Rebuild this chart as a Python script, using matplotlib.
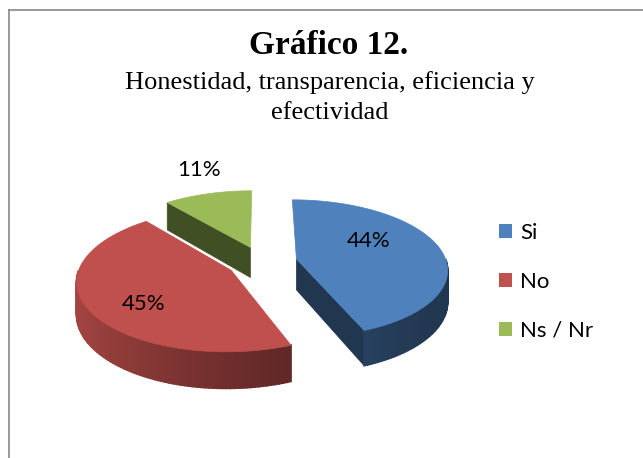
import numpy as np
import matplotlib.pyplot as plt
from matplotlib.patches import Polygon, Patch
from matplotlib.lines import Line2D
from matplotlib.colors import to_rgb

# datos del grafico
labels = ['Si', 'No', 'Ns / Nr']
values = [44, 45, 11]
colors = ['#4F81BD', '#C0504D', '#9BBB59']
title = 'Gráfico 12.'
subtitle = ['Honestidad, transparencia, eficiencia y', 'efectividad']

# geometria del pastel 3D (pixeles)
CX, CY = 262, 262
A, B, P, H = 150, 68, 0.136, 31
EXPLODE = 0.235
label_r = [0.58, 0.69, 1.49]
label_da = [17, 10, -3]
SANS = ['Lato', 'DejaVu Sans']


def proj(X, Y, z=0.0):
    s = 1.0 / (1.0 + P * Y)
    return CX + A * X * s, CY - B * Y * s + H * z * s


def shade(c, f):
    return tuple(np.clip(np.array(to_rgb(c)) * f, 0, 1))


def rim_factor(t):
    return 0.42 + 0.45 * ((1 - np.cos(t)) / 2) ** 1.5


fig = plt.figure(figsize=(6.43, 4.58), dpi=100)
ax = fig.add_axes([0, 0, 1, 1])
ax.set_xlim(0, 643)
ax.set_ylim(458, 0)
ax.axis('off')

fracs = np.array(values) / sum(values)
ends = 90 - 360 * np.cumsum(fracs)
starts = ends + 360 * fracs

slices = []
for i in range(len(values)):
    lo, hi = ends[i], starts[i]
    mid = np.radians((lo + hi) / 2)
    ox, oy = EXPLODE * np.cos(mid), EXPLODE * np.sin(mid)
    slices.append((oy, i, lo, hi, ox))

# de atras hacia adelante
for oy, i, lo, hi, ox in sorted(slices, reverse=True):
    c = colors[i]
    th = np.radians(np.linspace(lo, hi, 120))
    X = ox + np.cos(th)
    Y = oy + np.sin(th)
    vt = proj(ox, oy, 0)
    vb = proj(ox, oy, 1)

    # caras radiales
    for a, k in [(lo, 0), (hi, -1)]:
        ca = np.cos(np.radians(a))
        if (k == 0 and ca > 0.01) or (k == -1 and ca < -0.01):
            et = proj(X[k], Y[k], 0)
            eb = proj(X[k], Y[k], 1)
            ax.add_patch(Polygon([vt, et, eb, vb], closed=True,
                                 facecolor=shade(c, 0.42), edgecolor=shade(c, 0.42), lw=0.5))

    # borde exterior
    for j in range(len(th) - 1):
        tm = (th[j] + th[j + 1]) / 2
        if np.sin(tm) >= 0:
            continue
        p1 = proj(X[j], Y[j], 0)
        p2 = proj(X[j + 1], Y[j + 1], 0)
        p3 = proj(X[j + 1], Y[j + 1], 1)
        p4 = proj(X[j], Y[j], 1)
        col = shade(c, rim_factor(tm))
        ax.add_patch(Polygon([p1, p2, p3, p4], closed=True,
                             facecolor=col, edgecolor=col, lw=1.2))

    # cara superior
    xs, ys = proj(X, Y, 0)
    top = [vt] + list(zip(xs, ys))
    ax.add_patch(Polygon(top, closed=True, facecolor=c, edgecolor=c, lw=0.5))

# etiquetas de porcentaje
for oy, i, lo, hi, ox in slices:
    ang = np.radians((lo + hi) / 2 + label_da[i])
    lx, ly = proj(ox + label_r[i] * np.cos(ang), oy + label_r[i] * np.sin(ang), 0)
    ax.text(lx, ly, f'{values[i]}%', ha='center', va='center',
            fontsize=16, family=SANS, color='black')

# titulo
ax.text(329, 46, title, ha='center', va='center', fontsize=24,
        fontweight='bold', family='Liberation Serif')
ax.text(330, 83, subtitle[0], ha='center', va='center', fontsize=19,
        family='Liberation Serif')
ax.text(330, 113, subtitle[1], ha='center', va='center', fontsize=19,
        family='Liberation Serif')

# leyenda
handles = [Patch(facecolor=c, edgecolor='none') for c in colors]
ax.legend(handles, labels, loc='upper left', bbox_to_anchor=(499 / 643, 1 - 223 / 458),
          frameon=False, prop={'family': SANS, 'size': 16},
          handlelength=0.6, handleheight=0.6, handletextpad=0.35,
          labelspacing=1.3, borderpad=0, borderaxespad=0)

# marco
fig.add_artist(Line2D([8.5 / 643, 8.5 / 643], [0, 1 - 10 / 458], transform=fig.transFigure,
                      color='#888888', lw=1.2))
fig.add_artist(Line2D([8.5 / 643, 1], [1 - 10 / 458, 1 - 10 / 458], transform=fig.transFigure,
                      color='#888888', lw=1.2))

fig.savefig('out.png', dpi=100)
